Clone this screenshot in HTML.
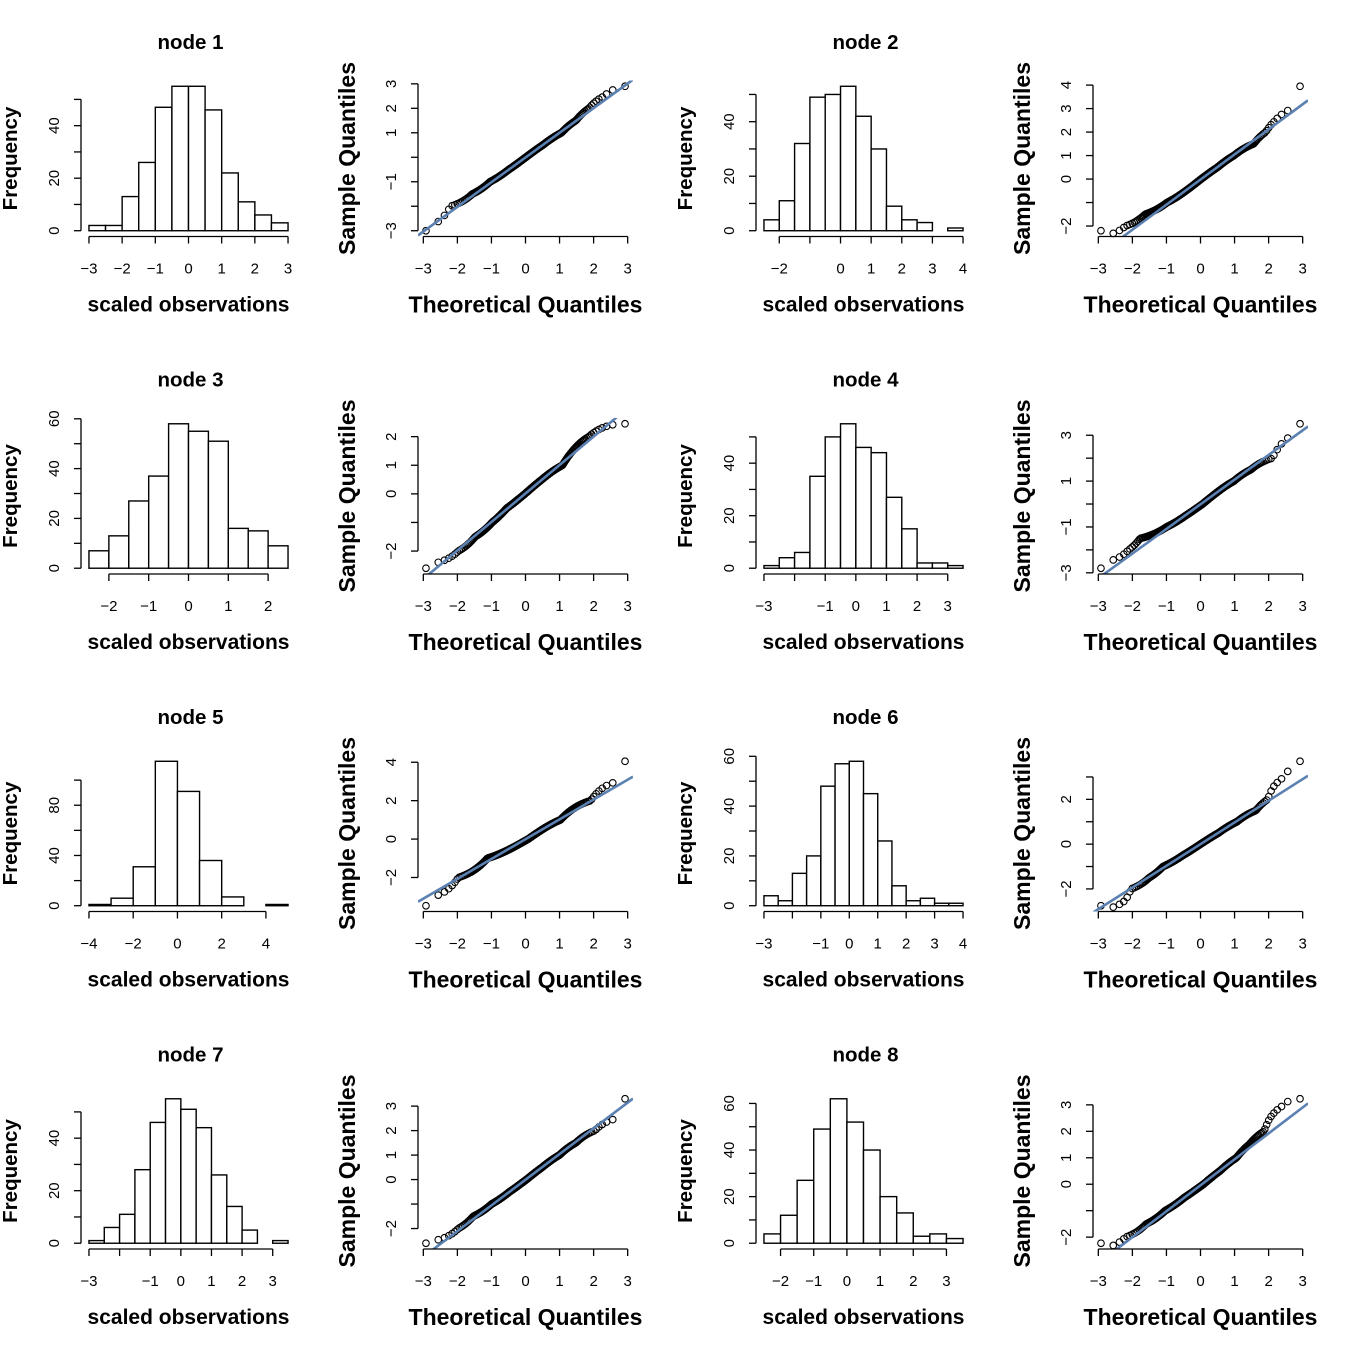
<!DOCTYPE html>
<html><head><meta charset="utf-8"><style>
html,body{margin:0;padding:0;background:#fff;}
svg{display:block;font-family:"Liberation Sans",Arial,sans-serif;}
</style></head><body>
<svg id="chart" width="1350" height="1350" viewBox="0 0 1350 1350" xmlns="http://www.w3.org/2000/svg"></svg>
<script>
// ---- data ----
const nodeNames = ["node 1","node 2","node 3","node 4","node 5","node 6","node 7","node 8"];
const histStart = [-3, -2.5, -2.5, -3, -4, -3, -3, -2.5];
const histWidth = [0.5, 0.5, 0.5, 0.5, 1, 0.5, 0.5, 0.5];
const counts1 = [2,2,13,26,47,55,55,46,22,11,6,3];
const counts2 = [4,11,32,49,50,53,42,30,9,4,3,0,1];
const counts3 = [7,13,27,37,58,55,51,16,15,9];
const counts4 = [1,4,6,35,50,55,46,44,27,15,2,2,1];
const counts5 = [1,6,31,115,91,36,7,0,1];
const counts6 = [4,2,13,20,48,57,58,45,26,8,2,3,1,1];
const counts7 = [1,6,11,28,46,55,51,44,26,14,5,0,1];
const counts8 = [4,12,27,49,62,52,40,20,13,3,4,2];
const histXTicks = [[-3,-2,-1,0,1,2,3],[-2,-1,0,1,2,3,4],[-2,-1,0,1,2],[-3,-2,-1,0,1,2,3],[-4,-2,0,2,4],[-3,-2,-1,0,1,2,3,4],[-3,-2,-1,0,1,2,3],[-2,-1,0,1,2,3]];
const histYTicks = [[0,10,20,30,40,50],[0,10,20,30,40,50],[0,10,20,30,40,50,60],[0,10,20,30,40,50],[0,20,40,60,80,100],[0,10,20,30,40,50,60],[0,10,20,30,40,50],[0,10,20,30,40,50,60]];
const qqMin = [-3.0, -2.2, -2.6, -2.8, -3.47, -2.75, -2.6, -2.23];
const qqMax = [2.9, 3.95, 2.45, 3.5, 4.05, 3.7, 3.3, 3.23];
const qqYTicks = [[-3,-2,-1,0,1,2,3],[-2,-1,0,1,2,3,4],[-2,-1,0,1,2],[-3,-2,-1,0,1,2,3],[-2,0,2,4],[-2,-1,0,1,2,3],[-2,-1,0,1,2,3],[-2,-1,0,1,2,3]];
const qqXTicks = [-3,-2,-1,0,1,2,3];
const allCounts = [counts1,counts2,counts3,counts4,counts5,counts6,counts7,counts8];

// ---- helpers ----
const NS = "http://www.w3.org/2000/svg";
const svg = document.getElementById("chart");
function mk(tag, attrs, parent){
  const e = document.createElementNS(NS, tag);
  for (const k in attrs) e.setAttribute(k, attrs[k]);
  (parent||svg).appendChild(e);
  return e;
}
function fmt(v){ return (v<0 ? "\u2212" + Math.abs(v) : String(v)); }
function labW(s){ return 9.5*s.length; }
function qnorm(p){
  const a=[-39.69683028665376,220.9460984245205,-275.9285104469687,138.3577518672690,-30.66479806614716,2.506628277459239];
  const b=[-54.47609879822406,161.5858368580409,-155.6989798598866,66.80131188771972,-13.28068155288572];
  const c=[-0.007784894002430293,-0.3223964580411365,-2.400758277161838,-2.549732539343734,4.374664141464968,2.938163982698783];
  const d=[0.007784695709041462,0.3224671290700398,2.445134137142996,3.754408661907416];
  const pl=0.02425;
  let q,r;
  if(p<pl){q=Math.sqrt(-2*Math.log(p));return (((((c[0]*q+c[1])*q+c[2])*q+c[3])*q+c[4])*q+c[5])/((((d[0]*q+d[1])*q+d[2])*q+d[3])*q+1);}
  if(p>1-pl){q=Math.sqrt(-2*Math.log(1-p));return -(((((c[0]*q+c[1])*q+c[2])*q+c[3])*q+c[4])*q+c[5])/((((d[0]*q+d[1])*q+d[2])*q+d[3])*q+1);}
  q=p-0.5;r=q*q;
  return (((((a[0]*r+a[1])*r+a[2])*r+a[3])*r+a[4])*r+a[5])*q/(((((b[0]*r+b[1])*r+b[2])*r+b[3])*r+b[4])*r+1);
}
function quant(arr, p){ const h=(arr.length-1)*p, lo=Math.floor(h); return arr[lo]+(h-lo)*((arr[Math.min(lo+1,arr.length-1)])-arr[lo]); }

const PW = 215, PH = 156, GAP = 13.5;
const TICKFS = 15, AXFS = 23, TITLEFS = 20.5, HXFS = 21, FREQFS = 20.5;

function yAxis(g, ticks, ys, axisX, name){
  const ax = mk("g", {}, g);
  
  
  mk("line",{x1:axisX,x2:axisX,y1:ys(ticks[0]),y2:ys(ticks[ticks.length-1]),stroke:"#000","stroke-width":1.3},ax);
  let lastPos=null,lastW=0;
  ticks.forEach(t=>{
    const y=ys(t);
    mk("line",{x1:axisX,x2:axisX-7,y1:y,y2:y,stroke:"#000","stroke-width":1.3},ax);
    const s=fmt(t), w=labW(s);
    if(lastPos===null || Math.abs(lastPos-y) >= (lastW+w)/2+GAP){
      const tx=mk("text",{x:axisX-22,y:y,"font-size":TICKFS,"text-anchor":"middle",transform:`rotate(-90 ${axisX-22} ${y})`},ax);
      tx.textContent=s; lastPos=y; lastW=w;
    }
  });
}
function xAxis(g, ticks, xs, axisY, name){
  const ax = mk("g", {}, g);
  
  
  mk("line",{x1:xs(ticks[0]),x2:xs(ticks[ticks.length-1]),y1:axisY,y2:axisY,stroke:"#000","stroke-width":1.3},ax);
  let lastPos=null,lastW=0;
  ticks.forEach(t=>{
    const x=xs(t);
    mk("line",{x1:x,x2:x,y1:axisY,y2:axisY+7,stroke:"#000","stroke-width":1.3},ax);
    const s=fmt(t), w=labW(s);
    if(lastPos===null || Math.abs(x-lastPos) >= (lastW+w)/2+GAP){
      const tx=mk("text",{x:x,y:axisY+37,"font-size":TICKFS,"text-anchor":"middle"},ax);
      tx.textContent=s; lastPos=x; lastW=w;
    }
  });
}

for (let k=0;k<8;k++){
  const r=Math.floor(k/2), c=k%2;
  const top=80.5+r*337.5, bot=top+PH;
  const counts=allCounts[k], st=histStart[k], bw=histWidth[k];
  const hx0=st, hx1=st+bw*counts.length;
  const hxr=hx1-hx0, hlo=hx0-0.04*hxr, hhi=hx1+0.04*hxr;
  const hLeft=81+c*675;
  const hxs=v=>hLeft+(v-hlo)/(hhi-hlo)*PW;
  const cmax=Math.max(...counts);
  const ylo=-0.04*cmax, yhi=cmax*1.04;
  const hys=v=>bot-(v-ylo)/(yhi-ylo)*PH;

  const hg=mk("g",{});
  
  
  const cx=hLeft+PW/2;
  const title=mk("text",{x:cx+2,y:49,"font-size":TITLEFS,"font-weight":"bold","text-anchor":"middle",transform:`translate(0 ${r*337.5})`},hg);
  
  
  title.textContent=nodeNames[k];
  counts.forEach((n,i)=>{
    const x0=hxs(st+i*bw), x1=hxs(st+(i+1)*bw);
    const rect=mk("rect",{x:x0,y:hys(n),width:x1-x0,height:hys(0)-hys(n),fill:"#fff",stroke:"#000","stroke-width":1.4},hg);
    
    
  });
  xAxis(hg,histXTicks[k],hxs,bot,'hist-x-axis');
  yAxis(hg,histYTicks[k],hys,hLeft,'hist-y-axis');
  const xl=mk("text",{x:cx,y:bot+75,"font-size":HXFS,"font-weight":"bold","text-anchor":"middle"},hg);
  
  
  xl.textContent="scaled observations";
  const yl=mk("text",{x:0,y:0,"font-size":FREQFS,"font-weight":"bold","text-anchor":"middle",transform:`translate(${hLeft-64} ${top+PH/2}) rotate(-90)`},hg);
  
  
  yl.textContent="Frequency";

  // ---- QQ plot ----
  let sample=[];
  counts.forEach((n,i)=>{ for(let j=0;j<n;j++) sample.push(st+i*bw+(j+0.5)/n*bw); });
  sample.sort((a,b)=>a-b);
  sample[0]=qqMin[k]; sample[sample.length-1]=qqMax[k];
  const N=sample.length;
  const theo=[]; for(let i=1;i<=N;i++) theo.push(qnorm((i-0.5)/N));
  const tlo=theo[0]-0.04*(theo[N-1]-theo[0]), thi=theo[N-1]+0.04*(theo[N-1]-theo[0]);
  const smin=sample[0], smax=sample[N-1], sr=smax-smin;
  const slo=smin-0.04*sr, shi=smax+0.04*sr;
  const qLeft=418+c*675;
  const qxs=v=>qLeft+(v-tlo)/(thi-tlo)*PW;
  const qys=v=>bot-(v-slo)/(shi-slo)*PH;
  const qg=mk("g",{});
  
  
  for(let i=0;i<N;i++){
    const p=mk("circle",{cx:qxs(theo[i]),cy:qys(sample[i]),r:3.3,fill:"none",stroke:"#000","stroke-width":1.1},qg);
    
    
  }
  const q1=quant(sample,0.25), q3=quant(sample,0.75), z=qnorm(0.75);
  const slope=(q3-q1)/(2*z), icpt=q1+slope*z;
  const clipId="clip"+k;
  const cp=mk("clipPath",{id:clipId},qg);
  mk("rect",{x:qLeft,y:top,width:PW,height:PH},cp);
  const ln=mk("line",{x1:qxs(tlo),y1:qys(icpt+slope*tlo),x2:qxs(thi),y2:qys(icpt+slope*thi),stroke:"#5b80b2","stroke-width":2.6,"clip-path":`url(#${clipId})`},qg);
  
  
  xAxis(qg,qqXTicks,qxs,bot,'qq-x-axis');
  yAxis(qg,qqYTicks[k],qys,qLeft,'qq-y-axis');
  const qcx=qLeft+PW/2;
  const qxl=mk("text",{x:qcx,y:bot+76,"font-size":AXFS,"font-weight":"bold","text-anchor":"middle"},qg);
  
  
  qxl.textContent="Theoretical Quantiles";
  const qyl=mk("text",{x:0,y:0,"font-size":AXFS,"font-weight":"bold","text-anchor":"middle",transform:`translate(${qLeft-63} ${top+PH/2}) rotate(-90)`},qg);
  
  
  qyl.textContent="Sample Quantiles";
}
</script>
</body></html>
